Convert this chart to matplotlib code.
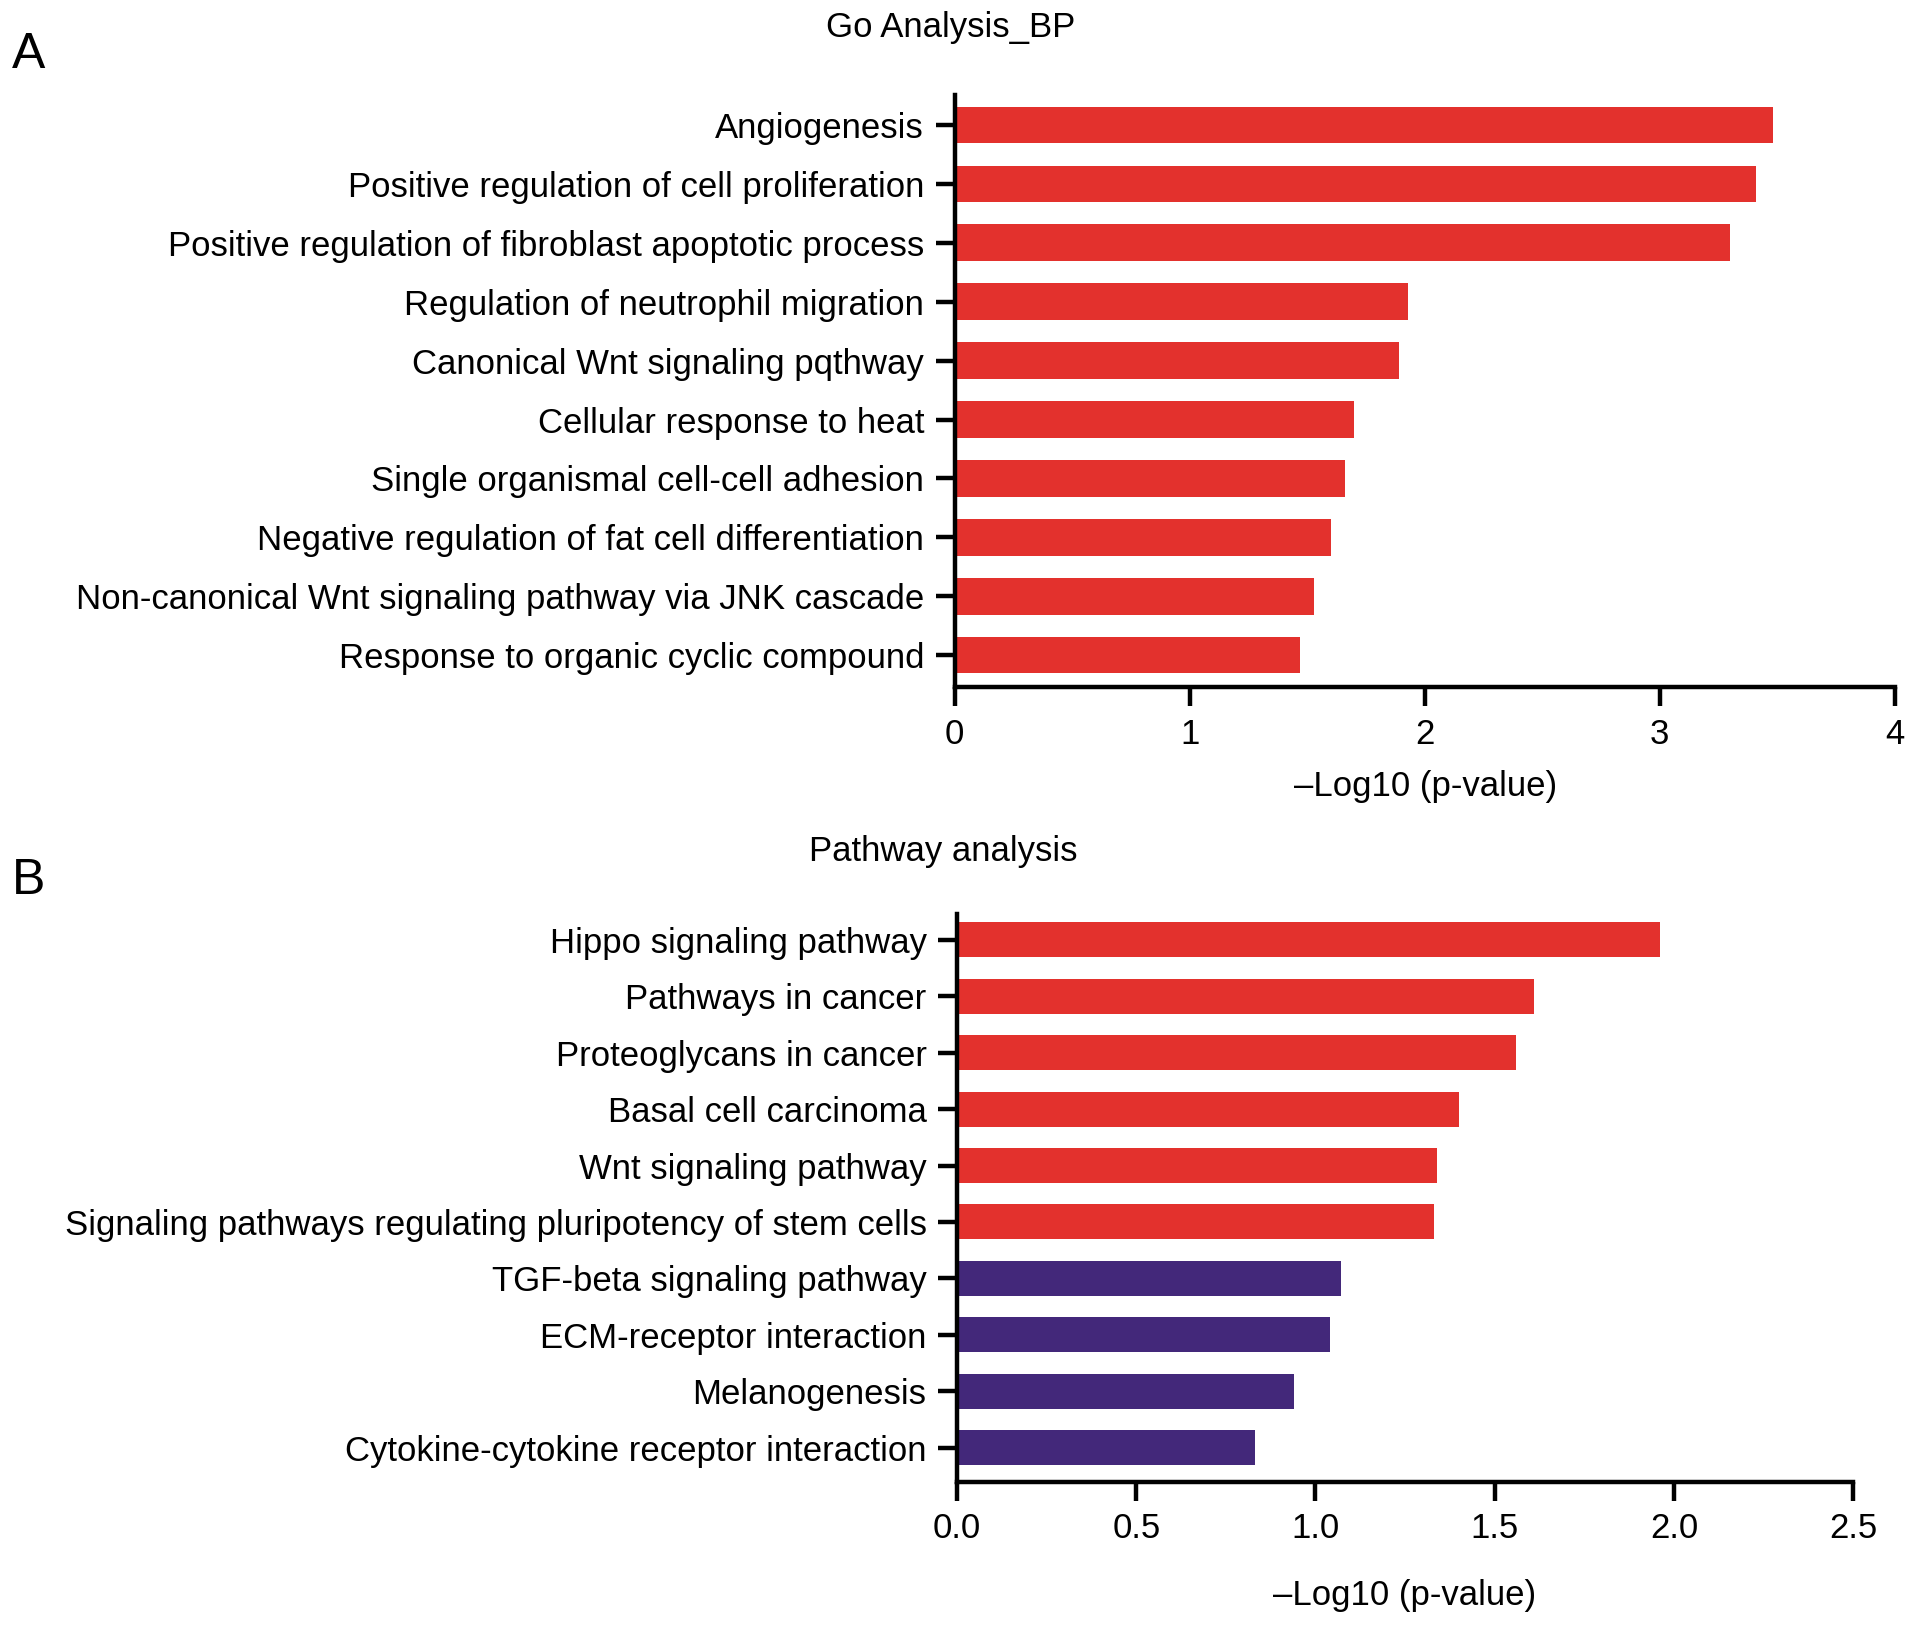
import numpy as np
import matplotlib
matplotlib.use("Agg")
import matplotlib.pyplot as plt

plt.rcParams['font.family'] = ['Liberation Sans', 'DejaVu Sans']

# panel A: GO analysis, biological process
go_terms = ["Angiogenesis",
            "Positive regulation of cell proliferation",
            "Positive regulation of fibroblast apoptotic process",
            "Regulation of neutrophil migration",
            "Canonical Wnt signaling pqthway",
            "Cellular response to heat",
            "Single organismal cell-cell adhesion",
            "Negative regulation of fat cell differentiation",
            "Non-canonical Wnt signaling pathway via JNK cascade",
            "Response to organic cyclic compound"]
go_vals = [3.48, 3.41, 3.30, 1.93, 1.89, 1.70, 1.66, 1.60, 1.53, 1.47]

# panel B: pathway analysis
pw_terms = ["Hippo signaling pathway",
            "Pathways in cancer",
            "Proteoglycans in cancer",
            "Basal cell carcinoma",
            "Wnt signaling pathway",
            "Signaling pathways regulating pluripotency of stem cells",
            "TGF-beta signaling pathway",
            "ECM-receptor interaction",
            "Melanogenesis",
            "Cytokine-cytokine receptor interaction"]
pw_vals = [1.96, 1.61, 1.56, 1.40, 1.34, 1.33, 1.07, 1.04, 0.94, 0.83]
pw_group = ["r", "r", "r", "r", "r", "r", "p", "p", "p", "p"]

red = "#E3312D"
purple = "#43287A"
fs = 25

fig = plt.figure(figsize=(19.13, 16.25), dpi=100)


def style(ax, xlim, xticks, xlabels):
    for s in ["top", "right"]:
        ax.spines[s].set_visible(False)
    for s in ["left", "bottom"]:
        ax.spines[s].set_linewidth(3.2)
    ax.set_xlim(*xlim)
    ax.set_xticks(xticks)
    ax.set_xticklabels(xlabels, fontsize=fs)
    ax.tick_params(axis="both", width=3.2, length=14, color="black")
    ax.tick_params(axis="x", pad=8)
    ax.tick_params(axis="y", pad=8, labelsize=fs)


axA = fig.add_axes([0.499, 0.5772, 0.4915, 0.3641])
y = np.arange(len(go_terms))[::-1]
axA.barh(y, go_vals, height=0.62, color=red)
axA.set_yticks(y)
axA.set_yticklabels(go_terms)
axA.set_ylim(-0.54, 9.5)
style(axA, (0, 4), [0, 1, 2, 3, 4], ["0", "1", "2", "3", "4"])

axB = fig.add_axes([0.5003, 0.0883, 0.4684, 0.349])
y = np.arange(len(pw_terms))[::-1]
cols = [red if g == "r" else purple for g in pw_group]
axB.barh(y, pw_vals, height=0.62, color=cols)
axB.set_yticks(y)
axB.set_yticklabels(pw_terms)
axB.set_ylim(-0.6, 9.45)
style(axB, (0, 2.5), [0, 0.5, 1.0, 1.5, 2.0, 2.5],
      ["0.0", "0.5", "1.0", "1.5", "2.0", "2.5"])

fig.text(0.497, 0.983, "Go Analysis_BP", ha="center", va="center", fontsize=fs)
fig.text(0.493, 0.4757, "Pathway analysis", ha="center", va="center", fontsize=fs)
fig.text(0.745, 0.516, "\u2013Log10 (p-value)", ha="center", va="center", fontsize=fs)
fig.text(0.734, 0.0183, "\u2013Log10 (p-value)", ha="center", va="center", fontsize=fs)
fig.text(0.006, 0.966, "A", ha="left", va="center", fontsize=36)
fig.text(0.006, 0.458, "B", ha="left", va="center", fontsize=36)

fig.savefig("out.png", dpi=100)
